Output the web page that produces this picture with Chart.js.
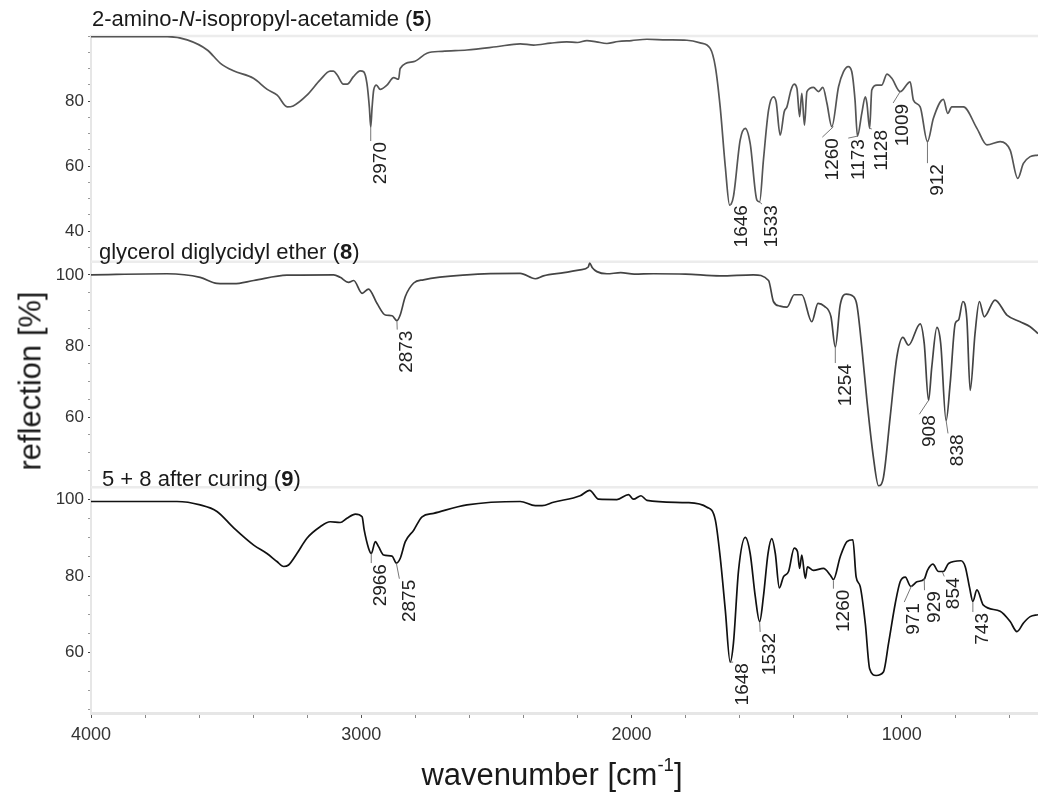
<!DOCTYPE html>
<html>
<head>
<meta charset="utf-8">
<script src="https://cdn.jsdelivr.net/npm/chart.js@4.4.0/dist/chart.umd.min.js"></script>
<style>
  body { margin: 0; background: #fff; }
  #wrap { position: relative; width: 1038px; height: 803px; font-family: 'Liberation Sans', Arial, sans-serif; color: #1a1a1a; }
  #wrap canvas { position: absolute; left: 0; top: 0; }
  .ttl { position: absolute; font-size: 22px; line-height: 22px; white-space: nowrap; }
  #ytitle { position: absolute; left: 30px; top: 381px; font-size: 31px; line-height: 31px; white-space: nowrap;
            transform: translate(-50%, -50%) rotate(-90deg); }
  #xtitle { position: absolute; left: 552px; top: 759px; font-size: 31px; line-height: 31px; white-space: nowrap;
            transform: translateX(-50%); }
  #xtitle sup { font-size: 60%; line-height: 0; vertical-align: 0.75em; }
</style>
</head>
<body>
<div id="wrap">
  <canvas id="irChart" width="1038" height="803"></canvas>
  <div class="ttl" style="left:92px; top:8px;">2-amino-<i>N</i>-isopropyl-acetamide (<b>5</b>)</div>
  <div class="ttl" style="left:99px; top:241px;">glycerol diglycidyl ether (<b>8</b>)</div>
  <div class="ttl" style="left:102px; top:468px;">5 + 8 after curing (<b>9</b>)</div>
  <div id="ytitle">reflection [%]</div>
  <div id="xtitle">wavenumber [cm<sup>-1</sup>]</div>
</div>
<script>
const FONT = "'Liberation Sans', Arial, sans-serif";

// spectrum 5 (2-amino-N-isopropyl-acetamide)
const wn1 = [4000, 3850, 3718, 3644, 3570, 3521, 3473, 3399, 3348, 3311, 3274, 3252, 3201, 3152, 3115, 3103, 3089,
  3066, 3052, 3029, 3004, 2991, 2979, 2970, 2965, 2960, 2954, 2944, 2930, 2905, 2880, 2862, 2856, 2806, 2757, 2700,
  2609, 2500, 2412, 2362, 2300, 2240, 2200, 2165, 2130, 2091, 2050, 2000, 1943, 1870, 1795, 1746, 1709, 1690, 1672,
  1653, 1637, 1623, 1598, 1579, 1561, 1536, 1526, 1512, 1493, 1475, 1465, 1450, 1435, 1425, 1410, 1398, 1388, 1378,
  1370, 1360, 1351, 1327, 1308, 1292, 1277, 1259, 1234, 1216, 1198, 1185, 1173, 1164, 1148, 1135, 1129, 1119, 1111,
  1092, 1074, 1055, 1037, 1006, 969, 957, 932, 905, 883, 846, 830, 815, 772, 722, 685, 636, 599, 571, 550, 525, 496];
const refl1 = [99.8, 99.8, 99.8, 98.8, 95.7, 91.6, 89.3, 87, 83.6, 81.8, 78.2, 78.5, 81.8, 86.5, 89.2, 89.2, 88,
  85.2, 85.2, 87.5, 89.3, 89, 85.4, 78, 72, 78, 83.4, 84.9, 83.6, 84.9, 87.2, 86.7, 90, 92.1, 94.7, 95.3,
  95.7, 96.7, 97.6, 97.2, 97.8, 98.2, 98, 98.6, 98.2, 97.7, 98.3, 98.6, 99, 98.8, 98.7, 97.9, 96.2, 90.6, 78.2,
  59.8, 48, 50.6, 68, 71.6, 67, 49.5, 49, 61.8, 77.2, 81.3, 79.8, 69.5, 76.7, 78.2, 83.4, 85.2, 83.9, 75.2,
  82.4, 72.6, 82.9, 84.2, 82.9, 84.2, 79.3, 72.1, 84.4, 89, 90.6, 89, 80.3, 69.2, 76.2, 81.3, 79.3, 71.6, 83.4,
  84.9, 84.9, 88.3, 87, 82.9, 85.9, 80.3, 78.2, 67.5, 74.7, 80.5, 76.2, 78.2, 78.2, 71.6, 66.5, 67.5, 64.9, 56.2, 60.8, 62.9, 63.4];

// spectrum 8 (glycerol diglycidyl ether)
const wn2 = [4000, 3719, 3596, 3534, 3472, 3398, 3275, 3102, 3078, 3047, 3028, 2997, 2973, 2942, 2911, 2886, 2868,
  2856, 2837, 2806, 2770, 2609, 2412, 2356, 2326, 2250, 2190, 2160, 2155, 2145, 2128, 2091, 2040, 1990, 1919, 1800,
  1672, 1549, 1493, 1475, 1450, 1425, 1398, 1370, 1333, 1310, 1287, 1262, 1246, 1228, 1206, 1179, 1166, 1148, 1129,
  1105, 1086, 1068, 1043, 1018, 996, 975, 932, 917, 901, 889, 870, 856, 836, 821, 802, 790, 774, 759, 747, 729,
  713, 695, 655, 611, 562, 525, 496];
const refl2 = [100, 100.3, 99.3, 97.6, 97.5, 98.4, 99.9, 100, 99.3, 97.9, 98.4, 94.8, 96, 92, 88.7, 88.5, 87.1,
  88.7, 93.9, 97.7, 98.6, 100, 100.4, 98.9, 99.7, 100.6, 101.4, 102.2, 103.3, 102, 100.9, 100.3, 100.6, 100.2, 100.3, 100.2,
  99.7, 100, 98.4, 92.5, 91.2, 90.9, 94.4, 94.4, 86.8, 92, 91.2, 88.2, 79.7, 91.5, 94.6, 93.9, 91.5, 79.7, 64.7,
  48.7, 40.7, 43, 60, 77, 82.4, 80.2, 86.2, 80.7, 64.7, 74.1, 85.2, 80.7, 59, 69.4, 86.4, 87.3, 92.5, 87.3, 67.5, 83.5,
  92.5, 88.2, 92.9, 88.7, 86.8, 85.4, 83.5];

// spectrum 9 (5 + 8 after curing)
const wn3 = [4000, 3682, 3596, 3534, 3472, 3398, 3349, 3312, 3287, 3269, 3238, 3201, 3152, 3115, 3078, 3053, 3022,
  2997, 2989, 2973, 2963, 2948, 2936, 2917, 2886, 2870, 2856, 2837, 2806, 2775, 2732, 2609, 2412, 2356, 2331, 2289,
  2190, 2155, 2122, 2054, 2011, 1993, 1965, 1943, 1795, 1721, 1690, 1672, 1653, 1635, 1623, 1604, 1579, 1561, 1542,
  1526, 1512, 1495, 1481, 1468, 1453, 1438, 1419, 1398, 1386, 1378, 1370, 1357, 1349, 1327, 1290, 1265, 1253, 1228,
  1203, 1181, 1169, 1154, 1135, 1119, 1095, 1068, 1049, 1024, 1006, 987, 967, 944, 917, 905, 885, 864, 846, 827,
  781, 765, 749, 737, 722, 698, 636, 599, 574, 550, 525, 496];
const refl3 = [99.5, 99.5, 98.6, 96.9, 92.6, 88.1, 85.9, 83.8, 82.5, 82.9, 85.9, 89.9, 92.9, 94.2, 94, 95.1, 96.2,
  95.5, 92, 87.3, 85.9, 89, 87.7, 85.5, 85.2, 83.4, 84.6, 89, 92, 95.5, 96.4, 98.6, 99.5, 98.4, 98.4, 99.3,
  101, 102.4, 100.1, 100, 101.3, 100.1, 101, 99.8, 99.2, 98, 94.7, 85, 71.1, 57.5, 62.4, 81.5, 90.1, 85.9, 74.6,
  68.1, 74.6, 85.9, 89.8, 85.9, 76.9, 79.8, 81.2, 87.3, 86.4, 82, 85.5, 79.4, 82.4, 81.5, 82, 80.3, 79.1, 85,
  89, 89.5, 79.8, 77.3, 67.6, 55.8, 54, 54.9, 62.4, 72.9, 78.5, 79.7, 77.3, 78.5, 79.2, 81.5, 83.1, 81.2, 81.2, 83.3,
  84, 82.4, 76.9, 73.4, 76.4, 72.4, 70.8, 68.1, 65.5, 67.7, 69.4, 69.9];

// peak labels: [text, peak wavenumber, peak value, label wavenumber, label value]
const peaks1 = [['2970', 2965, 72, 2965, 67.7], ['1646', 1637, 48, 1628, 48.3], ['1533', 1527, 49, 1517, 48.3],
  ['1260', 1253, 72.1, 1294, 68.9], ['1173', 1164, 69.2, 1198, 68.6], ['1128', 1119, 71.6, 1111, 71.4],
  ['1009', 1006, 82.9, 1032, 79.4], ['912', 905, 67.5, 905, 60.9]];
const peaks2 = [['2873', 2868, 87, 2867, 84.6], ['1254', 1246, 79.7, 1246, 75.2], ['908', 901, 64.7, 935, 60.8],
  ['838', 836, 59, 829, 55.4]];
const peaks3 = [['2966', 2963, 85.9, 2963, 83.4], ['2875', 2870, 83.3, 2859, 79.3], ['1648', 1635, 57.5, 1624, 57.5],
  ['1532', 1526, 68, 1524, 65.4], ['1260', 1253, 78.9, 1253, 76.7], ['971', 963, 77.6, 991, 73.2],
  ['929', 917, 79.3, 916, 76.3], ['854', 850, 81.1, 843, 79.9], ['743', 737, 73.2, 737, 70.6]];

// tick labels
const xLabels = [4000, 3000, 2000, 1000];
const yLabels1 = [40, 60, 80];
const yLabels2 = [60, 80, 100];
const yLabels3 = [60, 80, 100];

function toPoints(xs, ys) {
  return xs.map((x, i) => ({ x: x, y: ys[i] }));
}

function panelAxis(min, max, labels, order) {
  return {
    type: 'linear',
    position: 'left',
    stack: 'ir',
    stackWeight: 1,
    weight: order,
    min: min,
    max: max,
    afterBuildTicks: function(scale) {
      const t = [];
      for (let v = Math.ceil(min / 5) * 5; v <= max; v += 5) t.push({ value: v });
      scale.ticks = t;
    },
    afterFit: function(scale) { scale.width = 91; },
    ticks: {
      autoSkip: false,
      padding: 4,
      color: '#333',
      font: { family: FONT, size: 17 },
      callback: v => labels.includes(v) ? String(v) : ''
    },
    grid: {
      drawOnChartArea: false,
      tickLength: 3,
      tickColor: ctx => labels.includes(ctx.tick.value) ? '#444' : '#999'
    },
    border: { color: '#e6e6e6', width: 2 }
  };
}

// panel separators and peak labels
const irDecor = {
  id: 'irDecor',
  beforeDatasetsDraw(chart) {
    const ctx = chart.ctx;
    const area = chart.chartArea;
    ctx.save();
    ctx.strokeStyle = '#ececec';
    ctx.lineWidth = 2.5;
    ['y1', 'y2', 'y3'].forEach(id => {
      const top = chart.scales[id].top;
      ctx.beginPath();
      ctx.moveTo(area.left, top);
      ctx.lineTo(area.right, top);
      ctx.stroke();
    });
    ctx.restore();
  },
  afterDatasetsDraw(chart) {
    const ctx = chart.ctx;
    const xs = chart.scales.x;
    const sets = [[peaks1, 'y1'], [peaks2, 'y2'], [peaks3, 'y3']];
    ctx.save();
    ctx.font = '19px ' + FONT;
    ctx.fillStyle = '#222';
    ctx.strokeStyle = '#777';
    ctx.lineWidth = 1;
    sets.forEach(([peaks, id]) => {
      const ys = chart.scales[id];
      peaks.forEach(p => {
        const x0 = xs.getPixelForValue(p[1]);
        const y0 = ys.getPixelForValue(p[2]);
        const x1 = xs.getPixelForValue(p[3]);
        const y1 = ys.getPixelForValue(p[4]);
        ctx.beginPath();
        ctx.moveTo(x0, y0);
        ctx.lineTo(x1, y1);
        ctx.stroke();
        ctx.save();
        ctx.translate(x1 + 10, y1 + 1);
        ctx.rotate(-Math.PI / 2);
        ctx.textAlign = 'right';
        ctx.textBaseline = 'middle';
        ctx.fillText(p[0], 0, 0);
        ctx.restore();
      });
    });
    ctx.restore();
  }
};

const irChart = new Chart(document.getElementById('irChart').getContext('2d'), {
  type: 'line',
  data: {
    datasets: [
      { data: toPoints(wn1, refl1), yAxisID: 'y1', borderColor: '#555', borderWidth: 1.7 },
      { data: toPoints(wn2, refl2), yAxisID: 'y2', borderColor: '#444', borderWidth: 1.7 },
      { data: toPoints(wn3, refl3), yAxisID: 'y3', borderColor: '#111', borderWidth: 1.7 }
    ]
  },
  options: {
    responsive: false,
    animation: false,
    events: [],
    elements: { point: { radius: 0 }, line: { cubicInterpolationMode: 'monotone' } },
    layout: { padding: { top: 36, left: 0, right: 0, bottom: 0 } },
    plugins: { legend: { display: false }, tooltip: { enabled: false } },
    scales: {
      x: {
        type: 'linear',
        reverse: true,
        min: 496,
        max: 4000,
        afterBuildTicks: function(scale) {
          const t = [];
          for (let v = 600; v <= 4000; v += 200) t.push({ value: v });
          scale.ticks = t;
        },
        afterFit: function(scale) { scale.height = 90; },
        ticks: {
          autoSkip: false,
          maxRotation: 0,
          padding: 6,
          color: '#333',
          font: { family: FONT, size: 18 },
          callback: v => xLabels.includes(v) ? String(v) : ''
        },
        grid: {
          drawOnChartArea: false,
          tickLength: 5,
          tickColor: ctx => xLabels.includes(ctx.tick.value) ? '#555' : '#888'
        },
        border: { color: '#e6e6e6', width: 3 }
      },
      y1: panelAxis(30.6, 100, yLabels1, 3),
      y2: panelAxis(40.25, 103.7, yLabels2, 2),
      y3: panelAxis(44.2, 103.2, yLabels3, 1)
    }
  },
  plugins: [irDecor]
});
</script>
</body>
</html>
